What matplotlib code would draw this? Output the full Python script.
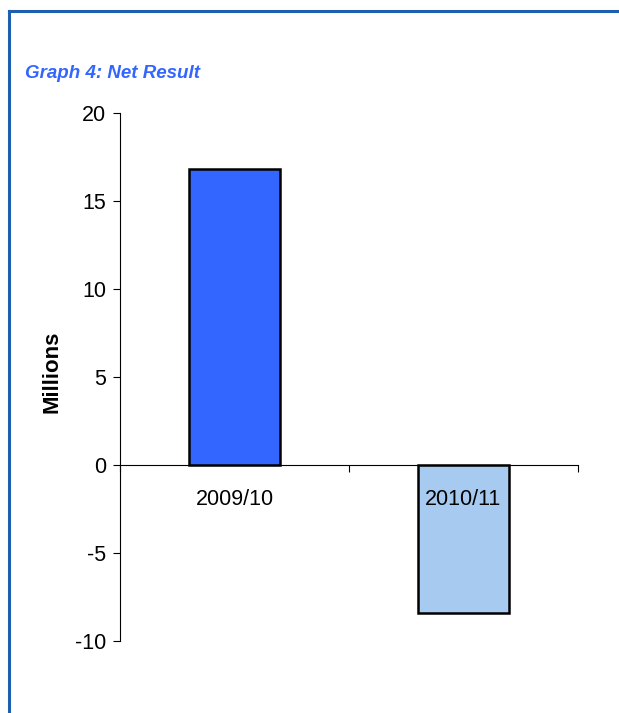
import matplotlib.pyplot as plt
from matplotlib.lines import Line2D

plt.rcParams['font.family'] = ['Liberation Sans', 'DejaVu Sans']
plt.rcParams['axes.unicode_minus'] = False

years = ['2009/10', '2010/11']
net_result = [16.8, -8.4]
bar_colors = ['#3366FF', '#A6CAF0']

W, H = 619, 713
fig = plt.figure(figsize=(W / 100, H / 100), dpi=100)
ax = fig.add_axes([120 / W, (H - 641) / H, 458 / W, 528 / H])

x = list(range(len(years)))
ax.bar(x, net_result, width=0.4, color=bar_colors, edgecolor='black',
       linewidth=1.8, zorder=2)

ax.set_xlim(-0.5, len(years) - 0.5)
ax.set_ylim(-10, 20)
ax.set_yticks([-10, -5, 0, 5, 10, 15, 20])

# tick marks sit on the category boundaries, labels under the centres
ax.set_xticks([-0.5, 0.5, 1.5])
ax.set_xticklabels([])
ax.tick_params(axis='x', direction='out', length=5, width=0.8)
ax.tick_params(axis='y', direction='out', length=5, width=0.8, pad=5,
               labelsize=15.5)
for xi, name in zip(x, years):
    ax.annotate(name, (xi, 0), xytext=(0, -17), textcoords='offset points',
                ha='center', va='top', fontsize=15.5, zorder=5)

ax.spines['top'].set_visible(False)
ax.spines['right'].set_visible(False)
ax.spines['bottom'].set_position(('data', 0))
ax.spines['bottom'].set_zorder(3)
ax.spines['left'].set_linewidth(0.8)
ax.spines['bottom'].set_linewidth(0.8)

fig.text(52 / W, 1 - 372 / H, 'Millions', rotation=90, ha='center',
         va='center', fontsize=16, fontweight='bold')
fig.text(25 / W, 1 - 73 / H, 'Graph 4: Net Result', ha='left', va='center',
         fontsize=13.5, fontweight='bold', fontstyle='italic', color='#3366FF')

# frame lines along top and left edge
border = '#1F5FAF'
fig.add_artist(Line2D([9 / W, 1], [1 - 11 / H, 1 - 11 / H], color=border,
                      linewidth=2.2, transform=fig.transFigure))
fig.add_artist(Line2D([9 / W, 9 / W], [0, 1 - 11 / H], color=border,
                      linewidth=2.2, transform=fig.transFigure))

fig.savefig('out.png', dpi=100)
